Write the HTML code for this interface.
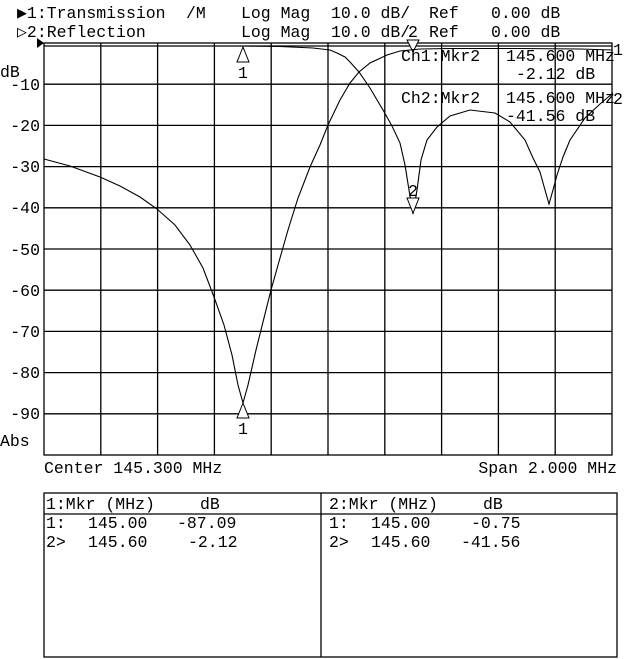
<!DOCTYPE html>
<html><head><style>
html,body{margin:0;padding:0;background:#fff;}
svg{display:block;}
text{font-family:"Liberation Mono","DejaVu Sans Mono",monospace;font-size:16.5px;fill:#000;white-space:pre;}
</style></head><body>
<svg width="640" height="659" viewBox="0 0 640 659" xmlns="http://www.w3.org/2000/svg">
<rect width="640" height="659" fill="#fff"/>
<!-- header -->
<text x="17" y="18">▶1:Transmission</text><text x="186" y="18">/M</text><text x="241" y="18">Log Mag</text><text x="331" y="18">10.0 dB/</text><text x="429" y="18">Ref</text><text x="491" y="18">0.00 dB</text>
<text x="17" y="37">▷2:Reflection</text><text x="241" y="37">Log Mag</text><text x="331" y="37">10.0 dB/</text><text x="429" y="37">Ref</text><text x="491" y="37">0.00 dB</text>
<!-- grid -->
<g stroke="#000" stroke-width="1.3" fill="none">
<rect x="44" y="43" width="568" height="412"/>
<line x1="44" y1="46" x2="612" y2="46"/>
<path d="M100.8 43V455M157.6 43V455M214.4 43V455M271.2 43V455M328 43V455M384.8 43V455M441.6 43V455M498.4 43V455M555.2 43V455"/>
<path d="M44 84.2H612M44 125.4H612M44 166.6H612M44 207.8H612M44 249H612M44 290.2H612M44 331.4H612M44 372.6H612M44 413.8H612"/>
</g>
<path d="M37 38L44 43L37 48Z" fill="#000"/>
<!-- y labels -->
<g text-anchor="end">
<text x="40" y="90">-10</text><text x="40" y="131">-20</text><text x="40" y="172">-30</text>
<text x="40" y="213">-40</text><text x="40" y="255">-50</text><text x="40" y="296">-60</text>
<text x="40" y="337">-70</text><text x="40" y="378">-80</text><text x="40" y="419">-90</text>
</g>
<text x="0" y="77">dB</text>
<text x="0" y="446">Abs</text>
<!-- traces -->
<g stroke="#000" stroke-width="1.1" fill="none">
<path d="M44 159L70 166L100 177L120 186L140 197L157 209L175 225L190 245L203 268L214 297L224 325L232 355L238 385L243 403L248 385L256 350L264 318L271 290L280 258L288 230L298 198L310 167L320 145L328 125L340 100L350 83L359 72L370 63L387 55L400 51L420 49L450 48.5L520 48.5L580 49L612 50"/>
<path d="M245 46L280 46.5L313 48L330 50L337 53L345 57L350 62L359 72L370 88L383 110L392 126L400 143L405 165L409 190L413 214L417 190L421 160L427 140L437 127L450 116L470 110L495 113L510 122L525 140L533 158L540 172L545 190L549 204L553 190L557 175L563 157L570 140L585 118L600 104L613 93"/>
</g>
<!-- markers -->
<g stroke="#000" stroke-width="1" fill="#fff">
<path d="M243 47L237 62H249Z"/>
<path d="M243 403L237 418H249Z"/>
<path d="M413 52L407 40H419Z"/>
<path d="M413 213L407 198H419Z"/>
</g>
<text x="238" y="78" font-size="14">1</text>
<text x="238" y="434" font-size="14">1</text>
<text x="408" y="37" font-size="14">2</text>
<text x="408" y="196" font-size="14">2</text>
<text x="613" y="55" font-size="14">1</text>
<text x="613" y="104" font-size="14">2</text>
<!-- marker readout -->
<text x="401" y="61">Ch1:Mkr2</text>
<text x="506" y="61">145.600 MHz</text>
<text x="516" y="79">-2.12 dB</text>
<text x="401" y="103">Ch2:Mkr2</text>
<text x="506" y="103">145.600 MHz</text>
<text x="506" y="121">-41.56 dB</text>
<!-- bottom -->
<text x="44" y="473">Center 145.300 MHz</text>
<text x="617" y="473" text-anchor="end">Span 2.000 MHz</text>
<!-- table -->
<g stroke="#000" stroke-width="1.3" fill="none">
<rect x="44" y="493" width="573" height="164"/>
<line x1="44" y1="514" x2="617" y2="514"/>
<line x1="321" y1="493" x2="321" y2="657"/>
</g>
<text x="46" y="509">1:Mkr (MHz)</text><text x="200" y="509">dB</text>
<text x="46" y="528">1:</text><text x="88" y="528">145.00</text><text x="177" y="528">-87.09</text>
<text x="46" y="547">2&gt;</text><text x="88" y="547">145.60</text><text x="188" y="547">-2.12</text>
<text x="329" y="509">2:Mkr (MHz)</text><text x="483" y="509">dB</text>
<text x="329" y="528">1:</text><text x="371" y="528">145.00</text><text x="471" y="528">-0.75</text>
<text x="329" y="547">2&gt;</text><text x="371" y="547">145.60</text><text x="461" y="547">-41.56</text>
</svg>
</body></html>
